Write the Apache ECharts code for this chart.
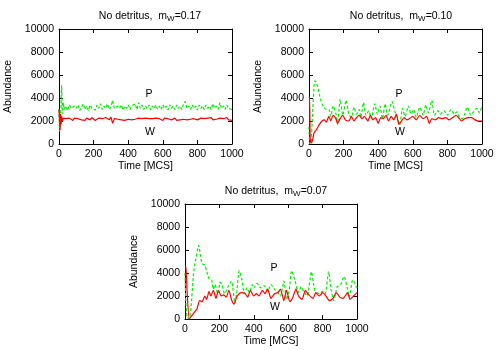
<!DOCTYPE html>
<html><head><meta charset="utf-8">
<script src="https://cdn.jsdelivr.net/npm/echarts@6/dist/echarts.min.js"></script>
<style>html,body{margin:0;padding:0;background:#fff}#c{width:500px;height:350px}</style>
</head><body><div id="c"></div>
<script>
// ---- Panel 1: m_W = 0.17 ----
var t1 = [0,3,6,9,12,15,20,25,30,
 40,50,60,70,80,90,100,110,120,130,
 140,150,160,170,180,190,200,210,220,230,
 240,250,260,270,280,290,300,310,320,330,
 340,350,360,370,380,390,400,410,420,430,
 440,450,460,470,480,490,500,510,520,530,
 540,550,560,570,580,590,600,610,620,630,
 640,650,660,670,680,690,700,710,720,730,
 740,750,760,770,780,790,800,810,820,830,
 840,850,860,870,880,890,900,910,920,930,
 940,950,960,970,980,990,1000];
var W1 = [3000,2000,1200,2600,1700,2400,2000,2250,2150,
 2200,2100,2250,2150,2050,2250,2100,2200,2300,2100,
 2200,2050,2250,2150,2100,2300,2150,2050,2200,2250,
 2100,2200,2150,2300,2200,2100,2350,1800,2200,2100,
 2150,2250,2100,2200,2050,2200,2150,2250,2100,2200,
 2150,2050,2250,2100,2200,2150,2250,2100,2200,2050,
 2200,2150,2250,2100,2200,2150,2050,2250,2100,2200,
 2250,2100,2150,2250,2050,2200,2100,2250,2150,2300,
 2100,2200,2150,2050,2200,2250,2100,2150,2250,2100,
 2200,2050,2250,2150,2300,2100,2200,2150,2050,2250,
 2100,2200,2150,2300,2100,2200,2050];
var P1 = [3000,1100,2800,1500,3500,5100,2600,3600,3000,
 3300,2900,3400,3100,3000,3300,3100,3400,2900,3200,
 3500,3000,3300,2900,3400,3100,3200,2950,3400,3100,
 3500,3000,3300,3100,3500,3000,3200,3800,3100,3000,
 3300,3100,3400,2950,3300,3100,3400,3000,3300,3150,
 3500,3000,3600,3100,3400,3000,3300,3100,3400,2950,
 3300,3100,3400,3050,3300,3000,3400,3100,3300,2950,
 3400,3100,3300,3000,3400,3100,3300,3000,3500,3700,
 3100,3300,3000,3400,3100,3300,2950,3400,3100,3300,
 3000,3400,3100,3300,3000,3500,3100,3300,3000,3600,
 3100,3300,3000,3400,3100,3200,3000];

// ---- Panel 2: m_W = 0.10 ----
var tW2 = [0,3,7,12,20,30,45,60,75,90,100,115,125,140,155,165,180,195,210,230,
 245,260,275,290,305,320,340,355,370,385,400,415,430,445,460,475,490,505,520,535,
 550,565,580,600,620,640,660,680,695,710,730,750,770,790,810,830,850,870,880,900,
 920,940,960,980,1000];
var W2 = [4000,4100,500,100,300,1000,1300,1700,2000,2100,1900,2400,2000,2500,2200,1800,2200,2500,2100,2000,
 2400,2000,2300,2500,2200,2400,2000,2500,2100,2300,1800,2300,2200,2500,2000,2400,2100,2600,1700,2000,
 2300,2100,2200,2400,2100,2500,2200,2400,1800,2200,2100,2300,2200,2300,2100,2300,2500,2200,2000,2200,
 2300,2300,2100,2000,2000];
var tP2 = [0,5,12,20,30,35,50,60,75,85,100,115,125,140,155,165,180,195,215,230,
 245,260,275,290,300,315,330,345,360,380,395,410,425,440,455,480,495,510,525,540,
 555,575,590,605,620,640,660,675,690,710,725,745,760,780,800,820,840,855,870,885,
 900,915,935,950,970,985,1000];
var P2 = [1500,0,100,2500,5200,5500,5000,4300,3500,3200,3000,3000,2400,3300,2700,1700,3900,2500,3800,2600,
 2300,3200,2600,3000,2300,3600,2500,2900,2200,3500,2600,3300,2200,3500,2500,3700,2900,2300,1700,3100,
 2400,3300,2600,3000,2300,3200,2500,3400,2700,3800,2500,2900,2600,2900,2500,3000,2600,2800,2300,2200,
 2600,3200,2500,2800,3100,2700,3300];

// ---- Panel 3: m_W = 0.07 ----
var tW3 = [0,5,12,25,40,55,70,85,100,115,125,140,150,165,180,195,210,225,240,255,
 270,285,300,315,330,350,365,380,400,415,430,450,465,480,500,520,540,555,575,590,
 610,625,645,660,680,700,720,745,760,780,800,815,840,860,880,900,920,945,960,980,1000];
var W3 = [4600,4600,2500,0,300,600,900,1600,1500,2000,1700,2400,2000,2500,1800,2500,2000,2100,1900,2500,
 1700,1300,1900,2200,2300,2200,1900,2500,2000,2200,2000,2500,2200,2600,1800,2200,2300,2600,1600,2500,
 1500,1800,2600,2000,1700,2500,2100,1800,2300,2000,2300,2100,1600,1800,2300,1900,1800,2300,1700,2000,2300];
var tP3 = [0,5,12,25,35,50,60,80,90,100,115,125,140,155,165,175,190,205,215,230,
 250,270,280,290,300,315,330,345,360,375,390,400,420,440,460,480,500,520,540,555,
 575,590,605,620,640,660,675,690,710,735,755,780,800,815,835,850,865,885,905,925,
 945,955,975,1000];
var P3 = [4000,1500,200,0,1000,4000,5000,6400,5500,4800,4700,4200,3500,3400,2600,3000,2200,3200,3000,2200,
 2800,3300,2500,1400,2200,4200,3500,2200,2700,2300,3000,2700,3100,2700,2900,2400,3000,2600,2300,2000,
 3300,1700,2400,4200,3300,2300,2800,2400,2000,4100,2500,2200,2400,2200,4100,2500,1600,2800,3000,3700,
 2600,1900,3400,2700];

var titles = ['0.17', '0.10', '0.07'];

function zip(t, v) { return t.map(function (x, i) { return [x, v[i]]; }); }

var FONT = 'Liberation Sans';
var grids = [
  {left: 59, top: 29, width: 173, height: 115},
  {left: 309, top: 29, width: 173, height: 115},
  {left: 185, top: 204, width: 172, height: 115}
];
var titlePos = [[145, 4], [396, 4], [271, 179]];
var labelPos = [
  {P: [149, 94], W: [150, 132]},
  {P: [399, 94], W: [400, 132]},
  {P: [274, 268], W: [275, 307]}
];
var plain = function (v) { return String(v); };

var xAxes = [], yAxes = [], series = [], titleArr = [], graphics = [];
grids.forEach(function (g, i) {
  var lineStyle = {color: '#000', width: 1};
  var tick = {show: true, inside: true, length: 4, lineStyle: {color: '#000'}};
  xAxes.push({type: 'value', gridIndex: i, min: 0, max: 1000, interval: 200, position: 'bottom',
    name: 'Time [MCS]', nameLocation: 'middle', nameGap: 17,
    nameTextStyle: {fontFamily: FONT, fontSize: 10.5, color: '#000'},
    axisLine: {show: true, onZero: false, lineStyle: lineStyle}, axisTick: tick,
    axisLabel: {fontFamily: FONT, fontSize: 10.5, color: '#000', margin: 5, formatter: plain},
    splitLine: {show: false}});
  xAxes.push({type: 'value', gridIndex: i, min: 0, max: 1000, interval: 200, position: 'top',
    axisLine: {show: true, onZero: false, lineStyle: lineStyle}, axisTick: tick,
    axisLabel: {show: false}, splitLine: {show: false}});
  yAxes.push({type: 'value', gridIndex: i, min: 0, max: 10000, interval: 2000, position: 'left',
    name: 'Abundance', nameLocation: 'middle', nameGap: 45,
    nameTextStyle: {fontFamily: FONT, fontSize: 10.5, color: '#000'},
    axisLine: {show: true, onZero: false, lineStyle: lineStyle}, axisTick: tick,
    axisLabel: {fontFamily: FONT, fontSize: 10.5, color: '#000', margin: 5, formatter: plain},
    splitLine: {show: false}});
  yAxes.push({type: 'value', gridIndex: i, min: 0, max: 10000, interval: 2000, position: 'right',
    axisLine: {show: true, onZero: false, lineStyle: lineStyle}, axisTick: tick,
    axisLabel: {show: false}, splitLine: {show: false}});
  titleArr.push({
    text: 'No detritus,  m{sub|W}=' + titles[i],
    left: titlePos[i][0], top: titlePos[i][1], textAlign: 'center',
    textStyle: {fontFamily: FONT, fontSize: 10.5, fontWeight: 'normal', color: '#000',
      rich: {sub: {fontFamily: FONT, fontSize: 8, color: '#000', padding: [6, 0, 0, 0]}}}
  });
  graphics.push({type: 'text', x: labelPos[i].P[0], y: labelPos[i].P[1],
    style: {text: 'P', font: '10.5px ' + FONT, fill: '#000', textAlign: 'center', textVerticalAlign: 'middle'}});
  graphics.push({type: 'text', x: labelPos[i].W[0], y: labelPos[i].W[1],
    style: {text: 'W', font: '10.5px ' + FONT, fill: '#000', textAlign: 'center', textVerticalAlign: 'middle'}});
});

var dataSets = [
  [zip(t1, W1), zip(t1, P1)],
  [zip(tW2, W2), zip(tP2, P2)],
  [zip(tW3, W3), zip(tP3, P3)]
];
dataSets.forEach(function (d, i) {
  var sm = i === 0 ? false : 0.2;
  series.push({type: 'line', xAxisIndex: 2 * i, yAxisIndex: 2 * i, data: d[1], showSymbol: false,
    smooth: sm, animation: false, lineStyle: {color: '#00ee00', width: 1.2, type: [3, 2]}});
  series.push({type: 'line', xAxisIndex: 2 * i, yAxisIndex: 2 * i, data: d[0], showSymbol: false,
    smooth: sm, animation: false, lineStyle: {color: '#ff0000', width: 1.2}});
});

var chart = echarts.init(document.getElementById('c'), null, {renderer: 'canvas'});
chart.setOption({
  animation: false,
  backgroundColor: '#fff',
  title: titleArr,
  grid: grids,
  xAxis: xAxes,
  yAxis: yAxes,
  series: series,
  graphic: graphics
});
</script></body></html>
